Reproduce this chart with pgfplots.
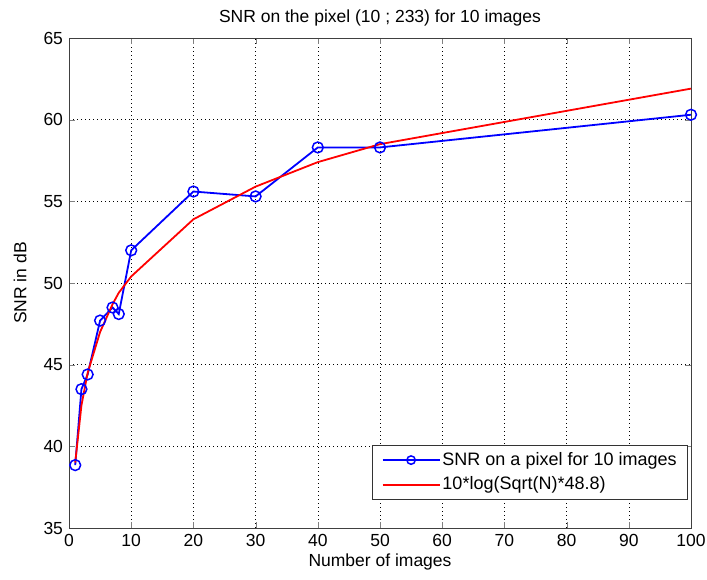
\documentclass[border=0pt]{standalone}
\usepackage{pgfplots}
\pgfplotsset{compat=1.18}
\usepackage{fontspec}
\setmainfont{Liberation Sans}

\pgfplotstableread{
N   snr
1   38.85
2   43.5
3   44.4
5   47.7
7   48.5
8   48.1
10  52.0
20  55.6
30  55.3
40  58.3
50  58.3
100 60.3
}\measured

\pgfplotstableread{
N   snr
1   39.0
2   42.5
3   44.5
5   47.0
7   48.7
8   49.4
10  50.4
20  53.9
30  55.9
40  57.4
50  58.5
100 61.9
}\model

\newcommand\plotfont{\fontsize{17.5pt}{20pt}\selectfont}
\newcommand\legfont{\fontsize{18pt}{20pt}\selectfont}

\begin{document}
\plotfont
\begin{tikzpicture}
\path[use as bounding box] (0pt,0pt) rectangle (707pt,580pt);
\begin{axis}[
  at={(69pt,52pt)}, anchor=south west,
  scale only axis, width=622pt, height=490pt,
  xmin=0, xmax=100, ymin=35, ymax=65,
  xtick={0,10,...,100}, ytick={35,40,...,65},
  tick align=inside, tick pos=both,
  major tick length=6pt,
  grid=major,
  grid style={black, dash pattern=on 1.2pt off 2.8pt, line width=0.6pt},
  axis line style={black!75, line width=0.8pt},
  title={SNR on the pixel (10 ; 233) for 10 images},
  xlabel={Number of images},
  ylabel={SNR in dB},
  xlabel style={yshift=4pt},
  ylabel style={yshift=5pt},
  tick label style={font=\plotfont},
  label style={font=\plotfont},
  /pgf/number format/assume math mode=true,
  legend style={at={(rel axis cs:1,0)}, anchor=south east, xshift=-3pt, yshift=28pt,
    draw=black!80, line width=0.8pt, fill=white, font=\legfont,
    inner xsep=9pt, inner ysep=5pt, row sep=5pt},
  legend cell align=left,
  legend image code/.code={%
    \draw[#1, mark size=4.2pt, mark repeat=2, mark phase=2]
      plot coordinates {(0pt,0pt) (28.5pt,0pt) (57pt,0pt)};},
]
\addplot[blue, line width=1.8pt, mark=o, mark size=5.4pt, mark options={line width=1.5pt}]
  table[x=N, y=snr] {\measured};
\addlegendentry{SNR on a pixel for 10 images}
\addplot[red, line width=1.8pt]
  table[x=N, y=snr] {\model};
\addlegendentry{10*log(Sqrt(N)*48.8)}
\end{axis}
\end{tikzpicture}
\end{document}
